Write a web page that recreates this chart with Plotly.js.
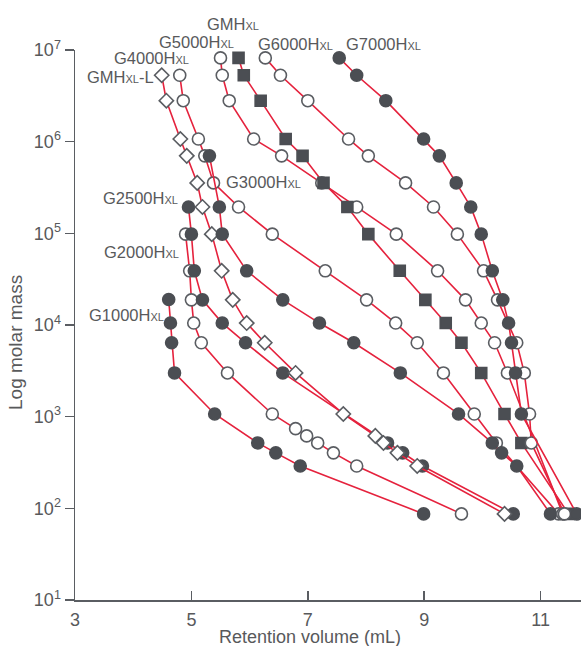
<!DOCTYPE html>
<html>
<head>
<meta charset="utf-8">
<script src="https://cdn.plot.ly/plotly-3.0.1.min.js"></script>
<style>html,body{margin:0;padding:0;background:#fff;}#chart{width:581px;height:646px;}</style>
</head>
<body>
<div id="chart"></div>
<script>
// Retention volume (mL) and molar mass for each column
const g1000_mL = [4.61, 4.64, 4.66, 4.71, 5.40, 6.14, 6.45, 6.87, 8.99];
const g1000_M  = [1.9e4, 1.05e4, 6.4e3, 3.0e3, 1.07e3, 517, 403, 290, 87];

const g2000_mL = [4.90, 4.97, 5.00, 5.04, 5.17, 5.62, 6.39, 6.79, 6.98, 7.17, 7.44, 7.84, 9.64];
const g2000_M  = [9.8e4, 3.9e4, 1.88e4, 1.05e4, 6.4e3, 3.0e3, 1.07e3, 740, 617, 517, 403, 290, 87];

const g2500_mL = [4.95, 5.00, 5.05, 5.19, 5.53, 5.93, 6.57, 8.37, 8.63, 8.97, 10.53];
const g2500_M  = [1.94e5, 9.8e4, 3.9e4, 1.88e4, 1.05e4, 6.4e3, 3.0e3, 517, 403, 290, 87];

const gmhL_mL = [4.49, 4.57, 4.81, 4.92, 5.10, 5.19, 5.35, 5.52, 5.71, 5.95, 6.26, 6.79, 7.61, 8.16, 8.30, 8.54, 8.88, 10.38];
const gmhL_M  = [5.3e6, 2.8e6, 1.07e6, 7.0e5, 3.55e5, 1.94e5, 9.8e4, 3.9e4, 1.88e4, 1.05e4, 6.4e3, 3.0e3, 1.07e3, 617, 517, 403, 290, 87];

const g4000_mL = [4.80, 4.86, 5.12, 5.23, 5.38, 5.81, 6.39, 7.30, 8.01, 8.51, 8.88, 9.33, 9.86, 10.24, 11.31];
const g4000_M  = [5.3e6, 2.8e6, 1.07e6, 7.0e5, 3.55e5, 1.94e5, 9.8e4, 3.9e4, 1.88e4, 1.05e4, 6.4e3, 3.0e3, 1.07e3, 517, 87];

const g3000_mL = [5.31, 5.48, 5.53, 5.95, 6.57, 7.20, 7.79, 8.59, 9.59, 10.17, 10.33, 10.59, 11.17];
const g3000_M  = [7.0e5, 1.94e5, 9.8e4, 3.9e4, 1.88e4, 1.05e4, 6.4e3, 3.0e3, 1.07e3, 517, 403, 290, 87];

const g5000_mL = [5.50, 5.53, 5.65, 6.07, 6.55, 7.24, 7.84, 8.52, 9.23, 9.71, 9.98, 10.21, 10.43, 11.38];
const g5000_M  = [8.2e6, 5.3e6, 2.8e6, 1.07e6, 7.0e5, 3.55e5, 1.94e5, 9.8e4, 3.9e4, 1.88e4, 1.05e4, 6.4e3, 3.0e3, 87];

const gmh_mL = [5.81, 5.90, 6.19, 6.62, 6.91, 7.27, 7.68, 8.04, 8.58, 9.02, 9.37, 9.64, 9.98, 10.38, 10.67, 11.48];
const gmh_M  = [8.2e6, 5.3e6, 2.8e6, 1.07e6, 7.0e5, 3.55e5, 1.94e5, 9.8e4, 3.9e4, 1.88e4, 1.05e4, 6.4e3, 3.0e3, 1.07e3, 517, 87];

const g6000_mL = [6.27, 6.53, 7.00, 7.70, 8.04, 8.68, 9.16, 9.57, 10.02, 10.26, 10.59, 10.72, 10.81, 10.84, 11.41];
const g6000_M  = [8.2e6, 5.3e6, 2.8e6, 1.07e6, 7.0e5, 3.55e5, 1.94e5, 9.8e4, 3.9e4, 1.88e4, 6.4e3, 3.0e3, 1.07e3, 517, 87];

const g7000_mL = [7.54, 7.84, 8.34, 8.99, 9.26, 9.55, 9.80, 9.98, 10.17, 10.35, 10.45, 10.50, 10.57, 10.67, 11.62];
const g7000_M  = [8.2e6, 5.3e6, 2.8e6, 1.07e6, 7.0e5, 3.55e5, 1.94e5, 9.8e4, 3.9e4, 1.88e4, 1.05e4, 6.4e3, 3.0e3, 1.07e3, 87];

const xTickVals = [3, 5, 7, 9, 11];
const yTickVals = [1e1, 1e2, 1e3, 1e4, 1e5, 1e6, 1e7];
const yTickText = ['10<sup>1</sup>', '10<sup>2</sup>', '10<sup>3</sup>', '10<sup>4</sup>', '10<sup>5</sup>', '10<sup>6</sup>', '10<sup>7</sup>'];

const labelNames = ['GMH<span style="font-size:11px">XL</span>',
  'G5000H<span style="font-size:11px">XL</span>',
  'G6000H<span style="font-size:11px">XL</span>',
  'G7000H<span style="font-size:11px">XL</span>',
  'G4000H<span style="font-size:11px">XL</span>',
  'GMH<span style="font-size:11px">XL</span>-L',
  'G3000H<span style="font-size:11px">XL</span>',
  'G2500H<span style="font-size:11px">XL</span>',
  'G2000H<span style="font-size:11px">XL</span>',
  'G1000H<span style="font-size:11px">XL</span>'];
// label anchor positions in pixels (left, middle)
const labelPx = [[205,24],[157,42],[256,44],[344,44],[112,58],[85,77],[224,182],[101,198],[102,252],[87,315]];

const RED = '#e5223d';
const DARK = '#4b4e53';
const GRAY = '#5a5d62';
const TXT = '#58595b';
const FAM = 'Liberation Sans, Arial, sans-serif';

function series(x, y, sym, filled, size) {
  return {
    x: x, y: y, type: 'scatter', mode: 'lines+markers', cliponaxis: false,
    line: {color: RED, width: 1.6},
    marker: {symbol: sym, size: size,
      color: filled ? DARK : '#ffffff',
      line: {color: filled ? DARK : GRAY, width: 1.6}},
    hoverinfo: 'skip'
  };
}

const data = [
  series(g1000_mL, g1000_M, 'circle', true, 12),
  series(g2000_mL, g2000_M, 'circle', false, 12),
  series(g2500_mL, g2500_M, 'circle', true, 12),
  series(gmhL_mL, gmhL_M, 'diamond', false, 11),
  series(g4000_mL, g4000_M, 'circle', false, 12),
  series(g3000_mL, g3000_M, 'circle', true, 12),
  series(g5000_mL, g5000_M, 'circle', false, 12),
  series(gmh_mL, gmh_M, 'square', true, 11),
  series(g6000_mL, g6000_M, 'circle', false, 12),
  series(g7000_mL, g7000_M, 'circle', true, 12)
];

const L = 75, T = 50, W = 506, H = 550;
const annotations = labelNames.map((t, i) => ({
  text: t, xref: 'paper', yref: 'paper',
  x: (labelPx[i][0] - L) / W, y: (T + H - labelPx[i][1]) / H,
  xanchor: 'left', yanchor: 'middle', showarrow: false,
  font: {family: FAM, size: 16.5, color: TXT}
}));
annotations.push({
  text: 'Retention volume (mL)', xref: 'paper', yref: 'paper',
  x: (310 - L) / W, y: (T + H - 637) / H, xanchor: 'center', yanchor: 'middle',
  showarrow: false, font: {family: FAM, size: 18, color: TXT}
});
annotations.push({
  text: 'Log molar mass', xref: 'paper', yref: 'paper',
  x: (15 - L) / W, y: (T + H - 343) / H, xanchor: 'center', yanchor: 'middle',
  textangle: -90, showarrow: false,
  font: {family: FAM, size: 19, color: TXT}
});

const fontBase = {family: FAM, size: 18, color: TXT};
const layout = {
  width: 581, height: 646,
  margin: {l: L, r: 0, t: T, b: 646 - T - H, pad: 0},
  paper_bgcolor: '#fff', plot_bgcolor: '#fff',
  showlegend: false,
  font: fontBase,
  xaxis: {
    range: [3, 3 + W / 58.2], showgrid: false, zeroline: false,
    showline: true, linecolor: GRAY, linewidth: 1.5,
    ticks: 'inside', ticklen: 9, tickwidth: 1.5, tickcolor: GRAY,
    tickvals: xTickVals, tickfont: fontBase, ticklabelstandoff: 3
  },
  xaxis2: {
    overlaying: 'x', anchor: 'y', matches: 'x', range: [3, 3 + W / 58.2],
    showgrid: false, zeroline: false, showline: false,
    ticks: 'outside', ticklen: 9, tickwidth: 1.5, tickcolor: GRAY,
    tickvals: xTickVals, showticklabels: false
  },
  yaxis: {
    type: 'log', range: [1, 7], showgrid: false, zeroline: false,
    showline: true, linecolor: GRAY, linewidth: 1.5,
    ticks: 'outside', ticklen: 9, tickwidth: 1.5, tickcolor: GRAY,
    tickvals: yTickVals, ticktext: yTickText, tickfont: fontBase
  },
  yaxis2: {
    type: 'log', overlaying: 'y', anchor: 'x', range: [1, 7],
    showgrid: false, zeroline: false, showline: false,
    ticks: 'inside', ticklen: 9, tickwidth: 1.5, tickcolor: GRAY,
    tickvals: yTickVals, showticklabels: false
  },
  annotations: annotations
};

Plotly.newPlot('chart', data, layout, {staticPlot: true, displayModeBar: false});
</script>
</body>
</html>
